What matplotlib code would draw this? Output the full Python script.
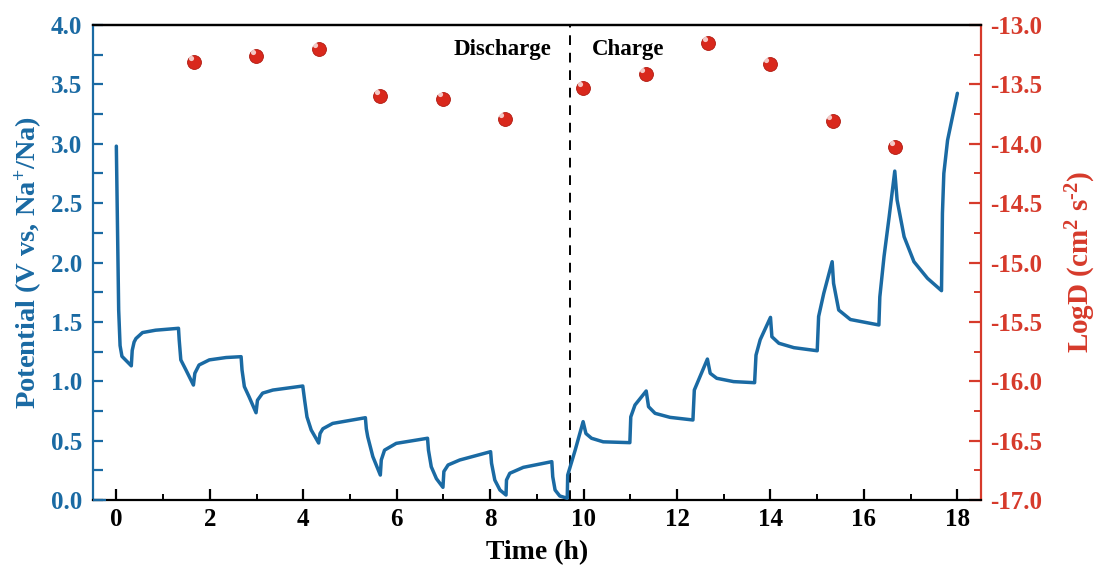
import matplotlib
matplotlib.use("Agg")
import matplotlib.pyplot as plt
from matplotlib.ticker import MultipleLocator, FormatStrFormatter

# ---------------- data ----------------
time_h = [0.00, 0.05, 0.08, 0.12, 0.32,
          0.34, 0.38, 0.42, 0.56, 0.84, 1.33,
          1.345, 1.38, 1.49, 1.65,
          1.68, 1.77, 1.99, 2.35, 2.67,
          2.69, 2.74, 2.84, 2.99,
          3.02, 3.13, 3.35, 3.99,
          4.03, 4.08, 4.17, 4.33,
          4.36, 4.42, 4.63, 5.33,
          5.35, 5.38, 5.49, 5.65,
          5.67, 5.74, 5.99, 6.66,
          6.68, 6.74, 6.85, 6.99,
          7.01, 7.10, 7.35, 8.01,
          8.03, 8.10, 8.21, 8.34,
          8.35, 8.42, 8.71, 9.32,
          9.34, 9.39, 9.49, 9.65,
          9.66, 9.82, 9.99,
          10.05, 10.17, 10.42, 10.99,
          11.01, 11.10, 11.34,
          11.39, 11.53, 11.85, 12.34,
          12.37, 12.46, 12.65,
          12.71, 12.85, 13.21, 13.66,
          13.69, 13.78, 14.00,
          14.03, 14.18, 14.50, 15.00,
          15.03, 15.14, 15.32,
          15.35, 15.46, 15.71, 16.32,
          16.34, 16.43, 16.54, 16.66,
          16.71, 16.86, 17.07, 17.36, 17.66,
          17.68, 17.71, 17.79, 18.00]
potential_v = [2.98, 1.60, 1.30, 1.21, 1.13,
               1.26, 1.33, 1.36, 1.41, 1.43, 1.446,
               1.35, 1.18, 1.095, 0.968,
               1.067, 1.137, 1.18, 1.20, 1.207,
               1.095, 0.955, 0.87, 0.735,
               0.84, 0.90, 0.926, 0.96,
               0.84, 0.70, 0.59, 0.48,
               0.56, 0.60, 0.645, 0.693,
               0.60, 0.533, 0.365, 0.21,
               0.337, 0.42, 0.477, 0.52,
               0.42, 0.28, 0.18, 0.107,
               0.24, 0.295, 0.337, 0.407,
               0.31, 0.168, 0.084, 0.042,
               0.168, 0.225, 0.275, 0.323,
               0.196, 0.084, 0.034, 0.015,
               0.21, 0.42, 0.66,
               0.56, 0.52, 0.49, 0.483,
               0.70, 0.80, 0.918,
               0.786, 0.73, 0.696, 0.674,
               0.926, 1.01, 1.187,
               1.067, 1.025, 0.997, 0.988,
               1.22, 1.35, 1.538,
               1.375, 1.32, 1.283, 1.257,
               1.545, 1.74, 2.007,
               1.825, 1.60, 1.52, 1.474,
               1.71, 2.05, 2.386, 2.77,
               2.526, 2.217, 2.007, 1.867, 1.763,
               2.414, 2.75, 3.03, 3.425]

discharge_t = [1.67, 2.99, 4.33, 5.65, 6.99, 8.31]
discharge_logD = [-13.31, -13.26, -13.20, -13.60, -13.62, -13.79]
charge_t = [9.99, 11.33, 12.66, 13.98, 15.33, 16.66]
charge_logD = [-13.53, -13.41, -13.15, -13.33, -13.81, -14.03]

switch_time = 9.7
xticks = [0, 2, 4, 6, 8, 10, 12, 14, 16, 18]

# ---------------- style ----------------
BLUE = "#1a6aa3"
RED = "#d63a2b"
plt.rcParams["font.family"] = ["Liberation Serif", "DejaVu Serif"]
plt.rcParams["font.weight"] = "bold"
plt.rcParams["mathtext.fontset"] = "custom"
plt.rcParams["mathtext.rm"] = "Liberation Serif:bold"
plt.rcParams["mathtext.bf"] = "Liberation Serif:bold"
plt.rcParams["mathtext.it"] = "Liberation Serif:bold"

fig = plt.figure(figsize=(10.99, 5.74), dpi=100)
ax = fig.add_axes([0.0846, 0.1289, 0.8078, 0.8275])
ax2 = ax.twinx()

ax.plot(time_h, potential_v, color=BLUE, lw=2.5, solid_joinstyle="round",
        solid_capstyle="round", zorder=3)
ax.axvline(switch_time, color="black", lw=1.4, ls=(0, (5, 4)), zorder=2)

allt = discharge_t + charge_t
alld = discharge_logD + charge_logD
ax2.scatter(allt, alld, s=100, color="#d9281c", edgecolor="#b01a10",
            linewidth=0.6, zorder=4)
ax2.scatter([t - 0.07 for t in allt], [d + 0.035 for d in alld], s=14,
            color="white", alpha=0.75, linewidth=0, zorder=5)

ax.set_xlim(-0.5, 18.5)
ax.set_ylim(0, 4.0)
ax2.set_ylim(-17.0, -13.0)

ax.set_xticks(xticks)
ax.xaxis.set_minor_locator(MultipleLocator(1))
ax.yaxis.set_major_locator(MultipleLocator(0.5))
ax.yaxis.set_minor_locator(MultipleLocator(0.25))
ax.yaxis.set_major_formatter(FormatStrFormatter("%.1f"))
ax2.yaxis.set_major_locator(MultipleLocator(0.5))
ax2.yaxis.set_minor_locator(MultipleLocator(0.25))
ax2.yaxis.set_major_formatter(FormatStrFormatter("%.1f"))

for a in (ax, ax2):
    for s in a.spines.values():
        s.set_linewidth(1.6)
ax.spines["left"].set_color(BLUE)
ax2.spines["left"].set_visible(False)
ax.spines["right"].set_visible(False)
ax2.spines["right"].set_color(RED)
ax.spines["bottom"].set_color("black")
ax.spines["top"].set_color("black")
ax2.spines["top"].set_color("black")
ax2.spines["bottom"].set_visible(False)
# short blue piece of the bottom axis next to the left spine
ax.plot([0, 0.015], [0, 0], transform=ax.transAxes, color=BLUE, lw=1.6,
        clip_on=False, zorder=6, solid_capstyle="butt")

ax.tick_params(axis="x", which="major", direction="in", length=8, width=1.6,
               colors="black", labelsize=18, pad=6)
ax.tick_params(axis="x", which="minor", direction="in", length=4, width=1.4,
               colors="black")
ax.tick_params(axis="y", which="both", direction="in", length=7, width=1.6,
               colors=BLUE, labelsize=18, pad=8)
ax2.tick_params(axis="y", which="major", direction="in", length=9, width=1.6,
                colors=RED, labelsize=18, pad=7)
ax2.tick_params(axis="y", which="minor", direction="in", length=5, width=1.4,
                colors=RED)

for lab in ax.get_xticklabels() + ax.get_yticklabels() + ax2.get_yticklabels():
    lab.set_fontweight("bold")

ax.set_xlabel("Time (h)", fontsize=20, fontweight="bold", labelpad=6)
ax.set_ylabel("Potential (V vs, Na$^{+}$/Na)", fontsize=20.5, fontweight="bold",
              color=BLUE, labelpad=5)
ax2.set_ylabel("LogD (cm$^{2}$ s$^{\\text{-}2}$)", fontsize=21, fontweight="bold",
               color=RED, labelpad=15)

ax.text(9.32, 3.79, "Discharge", ha="right", va="center", fontsize=16.5,
        fontweight="bold", color="black")
ax.text(10.18, 3.79, "Charge", ha="left", va="center", fontsize=16.5,
        fontweight="bold", color="black")

ax.set_zorder(ax2.get_zorder() + 1)
ax.patch.set_visible(False)

fig.savefig("out.png", dpi=100)
